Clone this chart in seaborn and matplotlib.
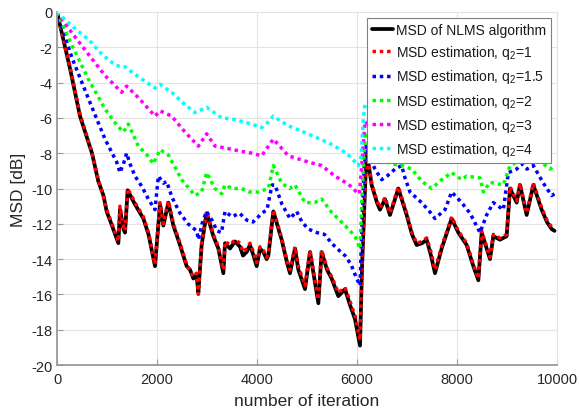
import numpy as np
import pandas as pd
import matplotlib
matplotlib.use("Agg")
import matplotlib.pyplot as plt
import seaborn as sns

sns.set_theme(style="white")
plt.rcParams["font.family"] = ["Liberation Sans", "DejaVu Sans"]
plt.rcParams["axes.unicode_minus"] = False
plt.rcParams["mathtext.fontset"] = "custom"
plt.rcParams["mathtext.rm"] = "Liberation Sans"

# MSD of the NLMS algorithm (simulated)
it_nlms = [0, 260, 460, 540, 700, 827, 930, 993, 1100, 1227, 1260, 1330, 1360, 1413,
           1560, 1727, 1830, 1960, 2060, 2127, 2227, 2327, 2460, 2593, 2660, 2727,
           2790, 2827, 2893, 2993, 3127, 3227, 3327, 3360, 3460, 3560, 3660, 3720,
           3793, 3860, 3930, 3993, 4060, 4127, 4193, 4227, 4327, 4493, 4600, 4660,
           4760, 4827, 4960, 5060, 5227, 5293, 5400, 5493, 5627, 5760, 5860, 5960,
           6060, 6100, 6127, 6160, 6193, 6293, 6400, 6460, 6560, 6660, 6827, 6993,
           7100, 7193, 7300, 7393, 7480, 7560, 7693, 7893, 8027, 8193, 8327, 8427,
           8493, 8593, 8660, 8727, 8860, 8993, 9060, 9193, 9260, 9393, 9527, 9693,
           9800, 9893, 9950]
msd_nlms = [0.0, -3.2, -5.9, -6.6, -8.0, -9.6, -10.4, -11.3, -12.1, -13.1, -11.2, -12.3,
            -12.5, -10.1, -10.9, -11.7, -12.6, -14.4, -10.9, -12.1, -10.8, -12.1, -13.2,
            -14.4, -14.6, -15.1, -14.9, -15.9, -13.2, -11.4, -12.7, -13.4, -14.8, -13.1,
            -13.4, -13.0, -13.3, -13.8, -13.6, -13.2, -13.8, -14.4, -13.4, -13.6, -14.0,
            -13.8, -11.3, -12.9, -14.2, -14.8, -13.4, -14.6, -15.7, -13.6, -16.5, -13.6,
            -14.6, -15.1, -16.1, -15.7, -16.6, -17.4, -18.9, -14.5, -12.5, -10.0, -7.9,
            -9.8, -10.8, -11.2, -10.6, -11.5, -10.0, -11.5, -12.6, -13.2, -13.1, -12.9,
            -13.8, -14.8, -13.4, -11.7, -12.5, -13.2, -14.4, -15.2, -12.5, -13.4, -14.0,
            -12.7, -12.9, -12.7, -10.0, -10.8, -9.8, -11.5, -9.8, -11.2, -11.9, -12.3,
            -12.4]

# MSD estimation, q2 = 1
it_q1 = it_nlms
msd_q1 = [0.0, -3.1, -5.8, -6.5, -8.0, -9.5, -10.5, -11.2, -12.0, -13.0, -11.0, -12.2,
          -12.4, -10.0, -10.8, -11.6, -12.5, -14.3, -10.8, -12.0, -10.7, -12.0, -13.1,
          -14.3, -14.7, -15.0, -14.8, -16.0, -13.1, -11.3, -12.6, -13.3, -14.6, -13.0,
          -13.2, -12.9, -13.1, -13.6, -13.4, -13.1, -13.6, -14.2, -13.3, -13.5, -13.9,
          -13.7, -11.2, -12.8, -14.1, -14.6, -13.3, -14.4, -15.5, -13.5, -16.3, -13.5,
          -14.5, -15.0, -15.9, -15.6, -16.4, -17.2, -18.6, -14.4, -12.4, -9.9, -7.8,
          -9.7, -10.7, -11.1, -10.5, -11.4, -9.9, -11.4, -12.5, -13.1, -13.0, -12.8,
          -13.6, -14.6, -13.3, -11.6, -12.4, -13.1, -14.3, -15.1, -12.4, -13.3, -13.9,
          -12.6, -12.8, -12.6, -9.9, -10.7, -9.7, -11.4, -9.7, -11.1, -11.8, -12.2,
          -12.3]

# MSD estimation, q2 = 1.5
it_q15 = [0, 300, 627, 960, 1193, 1260, 1330, 1393, 1460, 1560, 1700, 1827, 1960, 2027,
          2127, 2193, 2300, 2460, 2620, 2793, 2830, 2900, 2990, 3100, 3200, 3290, 3360,
          3500, 3650, 3800, 3920, 4100, 4200, 4300, 4360, 4500, 4660, 4793, 4900, 5027,
          5200, 5350, 5493, 5600, 5760, 5880, 5993, 6060, 6100, 6140, 6180, 6260, 6360,
          6493, 6600, 6760, 6893, 6960, 7060, 7293, 7450, 7560, 7760, 7893, 8093, 8260,
          8460, 8593, 8727, 8927, 9027, 9193, 9300, 9400, 9527, 9727, 9893, 9950]
msd_q15 = [0.0, -2.6, -4.9, -7.2, -8.5, -9.1, -8.6, -8.0, -8.6, -9.3, -9.9, -10.6, -11.2,
           -9.3, -9.7, -9.6, -10.5, -11.4, -12.0, -12.4, -12.9, -12.0, -11.3, -11.8,
           -12.4, -12.5, -11.3, -11.6, -11.4, -11.8, -11.9, -11.4, -11.2, -9.8, -9.8,
           -10.9, -11.7, -11.3, -11.9, -12.3, -12.5, -12.6, -13.1, -13.4, -13.8, -14.3,
           -15.1, -15.5, -12.0, -9.0, -7.6, -8.3, -8.9, -9.5, -9.3, -8.9, -8.7, -9.4,
           -10.2, -10.8, -11.3, -11.7, -11.2, -10.2, -10.8, -11.4, -12.5, -11.5, -10.8,
           -11.2, -9.1, -8.9, -8.6, -8.9, -8.7, -9.7, -10.4, -10.3]

# MSD estimation, q2 = 2
it_q2 = [0, 300, 627, 960, 1193, 1327, 1427, 1627, 1800, 1927, 2060, 2227, 2493, 2760,
         2893, 2993, 3160, 3293, 3360, 3500, 3693, 3850, 4027, 4227, 4327, 4493, 4650,
         4760, 4960, 5150, 5293, 5493, 5760, 5960, 6060, 6100, 6140, 6180, 6300, 6500,
         6700, 6900, 7093, 7300, 7493, 7693, 7893, 8093, 8193, 8460, 8527, 8660, 8927,
         9060, 9200, 9393, 9593, 9860, 9950]
msd_q2 = [0.0, -1.9, -3.8, -5.5, -6.4, -6.8, -6.35, -7.6, -8.1, -8.6, -7.8, -8.1, -9.5,
          -10.4, -10.2, -9.1, -10.0, -10.3, -9.8, -10.0, -10.0, -10.2, -10.2, -10.0, -8.7,
          -9.7, -10.0, -9.8, -10.8, -10.8, -10.6, -11.35, -12.1, -12.7, -13.4, -10.5,
          -8.0, -6.8, -7.8, -8.4, -8.6, -8.7, -8.9, -9.6, -10.0, -9.5, -9.1, -9.5, -9.3,
          -9.4, -10.2, -9.65, -9.8, -8.7, -8.5, -8.1, -8.3, -8.9, -8.7]

# MSD estimation, q2 = 3
it_q3 = [0, 250, 493, 960, 1293, 1393, 1627, 1960, 2060, 2293, 2560, 2827, 2993, 3160,
         3360, 3693, 3900, 4093, 4327, 4627, 5027, 5293, 5560, 5827, 5993, 6050, 6100,
         6160, 6300, 6600, 6900, 7200, 7500, 7800, 8100, 8450, 8600, 9000, 9300, 9600,
         9893, 9950]
msd_q3 = [0.0, -1.0, -1.9, -3.6, -4.55, -4.2, -4.85, -5.9, -5.6, -5.9, -6.8, -7.6, -6.9,
          -7.6, -7.7, -7.9, -8.0, -8.15, -7.2, -8.15, -8.5, -8.7, -9.3, -9.75, -10.2,
          -10.3, -8.5, -6.2, -6.6, -6.9, -7.0, -7.5, -7.9, -7.6, -8.0, -8.4, -7.9, -7.4,
          -6.8, -6.6, -6.9, -6.9]

# MSD estimation, q2 = 4
it_q4 = [0, 300, 627, 900, 1160, 1280, 1360, 1450, 1693, 1960, 2060, 2293, 2500, 2760,
         2993, 3293, 3500, 3693, 3900, 4093, 4200, 4327, 4627, 4850, 5093, 5427, 5760,
         5900, 6027, 6080, 6130, 6160, 6300, 6600, 7000, 7400, 7800, 8200, 8600, 9000,
         9400, 9700, 9893, 9950]
msd_q4 = [0.0, -0.8, -1.55, -2.4, -3.0, -3.1, -3.1, -3.3, -3.8, -4.3, -4.1, -4.55, -5.1,
          -5.7, -5.4, -6.0, -6.05, -6.2, -6.35, -6.55, -6.3, -5.9, -6.45, -6.7, -7.0,
          -7.4, -7.95, -8.3, -8.7, -8.2, -6.0, -5.2, -5.5, -5.8, -6.2, -6.5, -6.3, -6.6,
          -6.4, -5.8, -5.5, -5.7, -5.8, -5.8]

q_label = "MSD estimation, q$_\\mathregular{2}$="
dotted = (0, (1, 1.1))
series = [
    ("MSD of NLMS algorithm", it_nlms, msd_nlms, "black", "-"),
    (q_label + "1", it_q1, msd_q1, "#ff0000", dotted),
    (q_label + "1.5", it_q15, msd_q15, "#0000ff", dotted),
    (q_label + "2", it_q2, msd_q2, "#00ff00", dotted),
    (q_label + "3", it_q3, msd_q3, "#ff00ff", dotted),
    (q_label + "4", it_q4, msd_q4, "#00ffff", dotted),
]

fig = plt.figure(figsize=(5.79, 4.14), dpi=100)
ax = fig.add_axes([57 / 579, 1 - 366 / 414, 500 / 579, 353 / 414])

for name, xs, ys, col, ls in series:
    df = pd.DataFrame({"iteration": xs, "msd": ys})
    sns.lineplot(data=df, x="iteration", y="msd", ax=ax, color=col,
                 linestyle=ls, linewidth=2.7 if ls == "-" else 2.5,
                 label=name, estimator=None, sort=False)

ax.set_xlim(0, 10000)
ax.set_ylim(-20, 0)
ax.set_xticks(np.arange(0, 10001, 2000))
ax.set_yticks(np.arange(-20, 1, 2))
ax.set_xticklabels([str(v) for v in range(0, 10001, 2000)])
ax.set_yticklabels([str(v) for v in range(-20, 1, 2)])

ax.grid(True, color="#e3e3e3", linewidth=0.8)
ax.set_axisbelow(True)
for side in ("top", "right"):
    ax.spines[side].set_color("#e3e3e3")
    ax.spines[side].set_linewidth(0.8)
for side in ("left", "bottom"):
    ax.spines[side].set_color("#9a9a9a")
    ax.spines[side].set_linewidth(1.3)

ax.tick_params(axis="both", which="both", direction="in", length=4, width=0.8,
               color="#9a9a9a", labelsize=10.5, labelcolor="#262626",
               top=False, right=False, bottom=True, left=True)
ax.tick_params(axis="x", pad=5)
ax.tick_params(axis="y", pad=3)

ax.set_xlabel("number of iteration", fontsize=12.5, color="#262626", labelpad=5)
ax.set_ylabel("MSD [dB]", fontsize=12.5, color="#262626", labelpad=4)

leg = ax.legend(loc="upper right", bbox_to_anchor=(0.988, 0.983), borderaxespad=0,
                fontsize=10, frameon=True, fancybox=False, framealpha=1,
                edgecolor="#808080", handlelength=1.5, handletextpad=0.25,
                borderpad=0.35, labelspacing=0.45)
leg.get_frame().set_linewidth(0.8)
for t in leg.get_texts():
    t.set_color("#1a1a1a")

fig.savefig("out.png", dpi=100)
